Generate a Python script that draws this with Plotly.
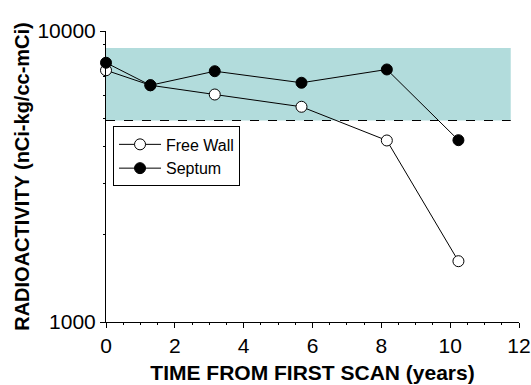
import plotly.graph_objects as go

years_free = [0.0, 1.29, 3.16, 5.68, 8.16, 10.24]
free_wall = [7330, 6510, 6050, 5490, 4205, 1618]
years_septum = [0.0, 1.29, 3.16, 5.68, 8.16, 10.24]
septum = [7780, 6510, 7275, 6640, 7375, 4215]
band_low, band_high = 4925, 8750
band_x_end = 11.76

fig = go.Figure()
fig.add_shape(type="rect", x0=0, x1=band_x_end, y0=band_low, y1=band_high,
              fillcolor="#b2dcdc", line=dict(width=0), layer="below")
fig.add_shape(type="line", x0=0, x1=band_x_end, y0=band_low, y1=band_low,
              line=dict(color="black", width=1, dash="dash"))

fig.add_trace(go.Scatter(x=years_free, y=free_wall, name="Free Wall", mode="lines+markers",
                         line=dict(color="black", width=1),
                         marker=dict(symbol="circle", size=11, color="white", line=dict(color="black", width=1)),
                         cliponaxis=False))
fig.add_trace(go.Scatter(x=years_septum, y=septum, name="Septum", mode="lines+markers",
                         line=dict(color="black", width=1),
                         marker=dict(symbol="circle", size=11, color="black", line=dict(color="black", width=1)),
                         cliponaxis=False))

fig.update_layout(
    width=531, height=385,
    margin=dict(l=106, r=12, t=31, b=63),
    paper_bgcolor="white", plot_bgcolor="white",
    font=dict(family="Liberation Sans, Arial", color="black"),
    showlegend=True,
    legend=dict(x=0.017, y=0.672, xanchor="left", yanchor="top",
                bordercolor="black", borderwidth=1, bgcolor="white",
                font=dict(size=16), tracegroupgap=0, itemwidth=42),
    xaxis=dict(range=[0, 12], tickvals=[0, 2, 4, 6, 8, 10, 12], ticks="outside", ticklen=5,
               tickcolor="black", showline=True, linecolor="black", linewidth=1,
               showgrid=False, zeroline=False, tickfont=dict(size=21), automargin=False,
               minor=dict(tickvals=[0.5*i for i in range(25)], ticks="outside", ticklen=2, tickcolor="black"),
               title=dict(text="<b>TIME FROM FIRST SCAN (years)</b>", font=dict(size=21), standoff=9)),
    yaxis=dict(type="log", range=[3, 4], tickvals=[1000, 10000], ticktext=["1000", "10000"],
               ticks="outside", ticklen=5, tickcolor="black", showline=True, linecolor="black",
               linewidth=1, showgrid=False, zeroline=False, tickfont=dict(size=21), automargin=False,
               minor=dict(tickvals=[k*1000 for k in range(2, 10)], ticks="outside", ticklen=2, tickcolor="black"),
               title=dict(text="<b>RADIOACTIVITY (nCi-kg/cc-mCi)</b>", font=dict(size=20), standoff=2)),
)
fig.write_html("out.html")
